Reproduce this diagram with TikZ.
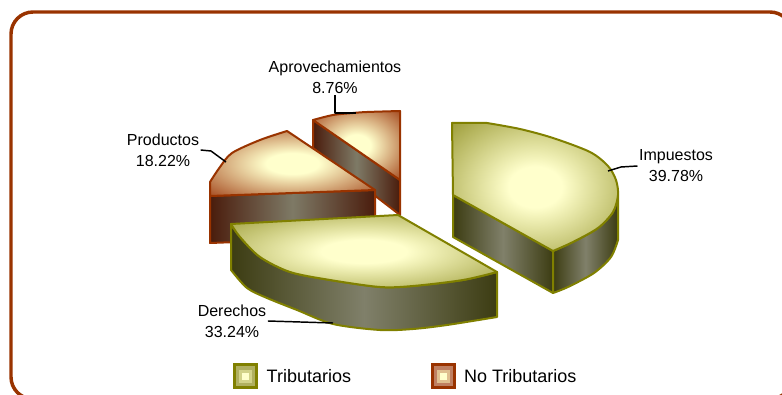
\documentclass[tikz,border=0pt]{standalone}
\usepackage{fontspec}
\setmainfont{Liberation Sans}
\usetikzlibrary{positioning}
\definecolor{frame}{HTML}{993300}
\definecolor{olivedge}{HTML}{808000}
\definecolor{oliverim}{HTML}{9C9C38}
\definecolor{olivedark}{HTML}{3C3C12}
\definecolor{olivemid}{HTML}{80806A}
\definecolor{rustedge}{HTML}{993300}
\definecolor{rustrim}{HTML}{A4481E}
\definecolor{rustdark}{HTML}{4A1C0C}
\definecolor{rustmid}{HTML}{7E7A66}
\definecolor{glowcore}{HTML}{FFFFCC}
\pgfdeclareradialshading{oliveglow}{\pgfpoint{0bp}{0bp}}{color(0bp)=(glowcore); color(8bp)=(glowcore); color(36bp)=(oliverim); color(50bp)=(oliverim)}
\pgfdeclareradialshading{rustglow}{\pgfpoint{0bp}{0bp}}{color(0bp)=(glowcore); color(8bp)=(glowcore); color(36bp)=(rustrim); color(50bp)=(rustrim)}

\begin{document}
\begin{tikzpicture}[x=0.75pt,y=-0.75pt,line join=round,
    olivetop/.style={draw=olivedge,line width=1.5pt,shade,shading=oliveglow},
    oliveside/.style={draw=olivedge,line width=1.5pt,left color=olivedark,right color=olivedark,middle color=olivemid},
    rusttop/.style={draw=rustedge,line width=1.5pt,shade,shading=rustglow},
    rustside/.style={draw=rustedge,line width=1.5pt,left color=rustdark,right color=rustdark,middle color=rustmid},
    lbl/.style={align=center,inner sep=1pt,font=\fontsize{12}{15.75}\selectfont},
    leader/.style={draw=black,line width=1.1pt},
    key/.style={minimum size=18.75pt,inner sep=0pt},
    keytext/.style={inner sep=0pt,font=\fontsize{13.5}{16}\selectfont}]
  \useasboundingbox (0,0) rectangle (782,395);
  \clip (0,0) rectangle (782,395);
  \draw[frame,line width=2.6pt,rounded corners=16.5pt] (11,12) rectangle (792,399);

  % Aprovechamientos
  \path[rustside] (313,120) -- (400,180) -- (400,215) -- (313,148) -- cycle;
  \path[rusttop] plot[smooth] coordinates {(313,120) (333,115) (353,113) (367,112) (400,111)} -- (400,180) -- cycle;
  % Productos
  \path[rustside] (210,196) -- (375,190) -- (375,237) -- (210,243) -- cycle;
  \path[rusttop] (375,190) -- (210,196) -- (210,182)
    -- plot[smooth] coordinates {(210,182) (220,167) (232,153) (260,140) (287,131)} -- cycle;
  % Impuestos
  \path[oliveside] (453,195) -- (553,251) -- (553,293) -- (453,237) -- cycle;
  \path[oliveside] plot[smooth] coordinates {(553,251) (573,242) (598,228) (613,212) (618,195)}
    -- (618,240) -- plot[smooth] coordinates {(618,240) (611,257) (594,273) (568,287) (553,293)} -- cycle;
  \path[olivetop] (452,123) -- plot[smooth] coordinates {(487,123) (520,129) (553,138) (590,152) (608,166) (616,180) (618,195) (613,212) (598,228) (573,242) (553,251)}
    -- (453,195) -- cycle;
  % Derechos
  \path[oliveside] plot[smooth] coordinates {(231,224) (240,237) (260,257) (290,272) (330,280) (380,287) (413,286) (463,280) (497,272)}
    -- (497,317) -- plot[smooth] coordinates {(497,317) (447,325) (413,329) (380,330) (333,324) (297,310) (267,298) (247,288) (231,270)} -- cycle;
  \path[olivetop] (231,224) -- (398,215) -- (497,272)
    -- plot[smooth] coordinates {(497,272) (463,280) (413,286) (380,287) (330,280) (290,272) (260,257) (240,237) (231,224)} -- cycle;

  % labels
  \node[lbl] (impLab) at (676,166) {Impuestos\\39.78\%};
  \node[lbl] (aproLab) at (335,77) {Aprovechamientos\\8.76\%};
  \node[lbl] (prodLab) at (163,150) {Productos\\18.22\%};
  \node[lbl] (derLab) at (232,321) {Derechos\\33.24\%};
  \coordinate (impTip) at (608,171);
  \coordinate (impKnee) at (621,167);
  \coordinate (aproTip) at (356,113);
  \coordinate (prodTip) at (226,162);
  \coordinate (prodKnee) at (211,151);
  \coordinate (derTip) at (333,323);
  \draw[leader] (impTip) -- (impKnee) -- (impLab.west);
  \draw[leader] (aproLab.south) |- (aproTip);
  \draw[leader] (prodLab.east) -- (prodKnee) -- (prodTip);
  \draw[leader] (derLab.east) -- (derTip);

  % legend
  \node[key,fill=olivedge] (triKey) at (245,376) {};
  \foreach \s/\c in {14.25/oliverim!80!white,9.75/oliverim!45!glowcore,5.25/glowcore}
    \node[key,minimum size=\s pt,fill=\c] at (triKey) {};
  \node[keytext,right=6.5pt of triKey] (triText) {Tributarios};
  \node[key,fill=rustedge] (noKey) at (443,376) {};
  \foreach \s/\c in {14.25/rustrim!70!white,9.75/rustrim!35!glowcore,5.25/glowcore}
    \node[key,minimum size=\s pt,fill=\c] at (noKey) {};
  \node[keytext,right=6pt of noKey] (noText) {No Tributarios};
\end{tikzpicture}
\end{document}
